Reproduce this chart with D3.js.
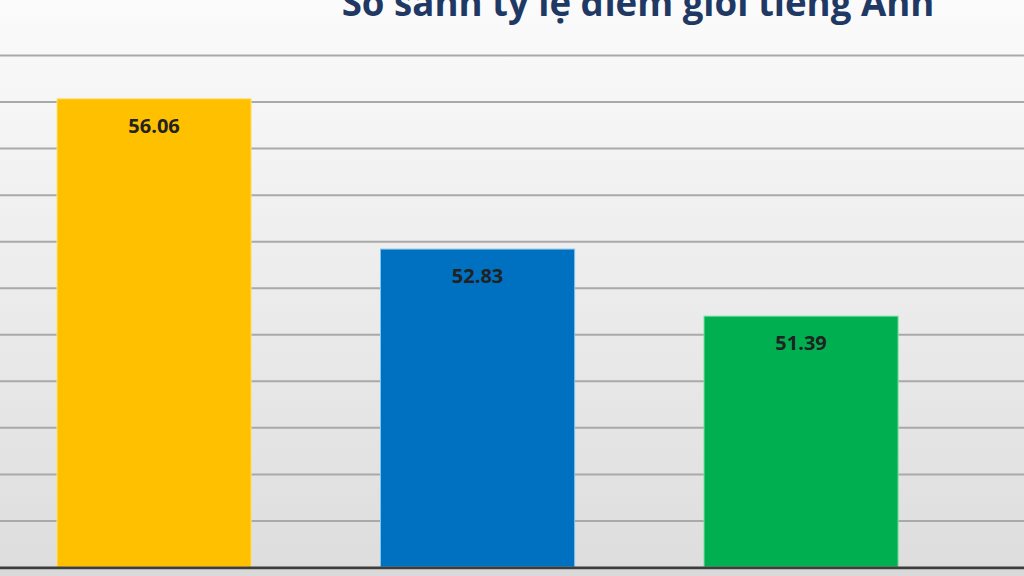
<!DOCTYPE html>
<html>
<head>
<meta charset="utf-8">
<script src="https://cdn.jsdelivr.net/npm/d3@7/dist/d3.min.js"></script>
<style>
html,body{margin:0;padding:0;background:#fff;}
svg{display:block;}
</style>
</head>
<body>
<svg id="chart" width="1024" height="576"></svg>
<script>
const title = "So sánh tỷ lệ điểm giỏi tiếng Anh";
const categories = ["A", "B", "C"];
const values = [56.06, 52.83, 51.39];
const colors = ["#FFC000", "#0070C0", "#00B050"];
const edgeColors = ["#FFE27A", "#7FC4F0", "#7FE0A8"];
const yTicks = [46, 47, 48, 49, 50, 51, 52, 53, 54, 55, 56, 57];

const W = 1024, H = 576;
const svg = d3.select("#chart");

const defs = svg.append("defs");
const grad = defs.append("linearGradient").attr("id", "bg").attr("x1", 0).attr("y1", 0).attr("x2", 0).attr("y2", 1);
grad.append("stop").attr("offset", "0%").attr("stop-color", "#fbfbfb");
grad.append("stop").attr("offset", "50%").attr("stop-color", "#ececec");
grad.append("stop").attr("offset", "100%").attr("stop-color", "#dddddd");
svg.append("rect").attr("width", W).attr("height", H).attr("fill", "url(#bg)");

const y = d3.scaleLinear().domain([46, 57]).range([567, 55]);
const x = d3.scaleBand().domain(categories).range([-7.7, 962.8]).paddingInner(0.4).paddingOuter(0.2);

// gridlines via axis
const grid = svg.append("g").attr("class", "grid")
  .call(d3.axisLeft(y).tickValues(yTicks.slice(1)).tickSize(-W).tickFormat(""))
  .attr("transform", "translate(0,0)");
grid.select(".domain").remove();
grid.selectAll(".tick line").attr("stroke", "#a9a9a9").attr("stroke-width", 2).attr("x1", 0).attr("x2", W);

// bars
svg.append("g").selectAll("rect").data(values).join("rect")
  .attr("x", (d, i) => x(categories[i]))
  .attr("y", d => y(d))
  .attr("width", x.bandwidth())
  .attr("height", d => y(46) - y(d))
  .attr("fill", (d, i) => colors[i])
  .attr("stroke", (d, i) => edgeColors[i])
  .attr("stroke-width", 1);

// baseline
svg.append("line").attr("x1", 0).attr("x2", W).attr("y1", y(46) + 1).attr("y2", y(46) + 1)
  .attr("stroke", "#3d3d3d").attr("stroke-width", 3);
svg.append("rect").attr("x", 0).attr("y", y(46) + 2.5).attr("width", W).attr("height", H - y(46)).attr("fill", "#d9d9d9");

// labels
svg.append("g").selectAll("text").data(values).join("text")
  .attr("x", (d, i) => x(categories[i]) + x.bandwidth() / 2)
  .attr("y", d => y(d) + 34)
  .attr("text-anchor", "middle")
  .attr("font-family", "'Open Sans', sans-serif")
  .attr("font-weight", 700)
  .attr("font-size", 20)
  .attr("fill", "#222")
  .text(d => d.toFixed(2));

// title
const t = svg.append("text")
  .attr("x", 638)
  .attr("y", 16)
  .attr("text-anchor", "middle")
  .attr("font-family", "'Open Sans', sans-serif")
  .attr("font-weight", 700)
  .attr("font-size", 32)
  .attr("fill", "#1F3864")
  .text(title);
const len = t.node().getComputedTextLength();
t.attr("font-size", 32 * 593 / len);
</script>
</body>
</html>
